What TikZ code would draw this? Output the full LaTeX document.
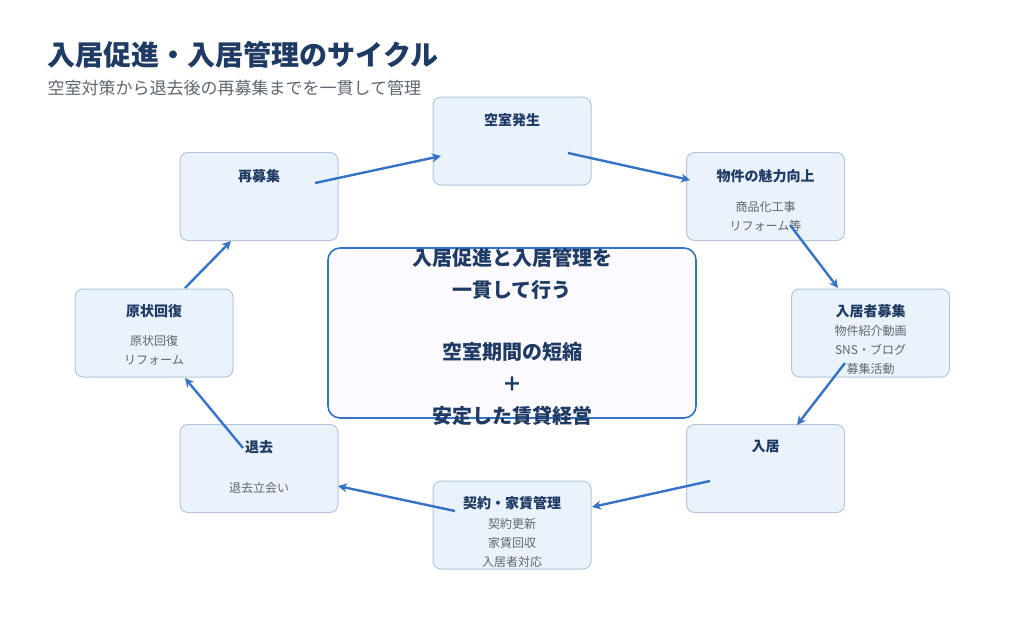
\documentclass[tikz,border=0pt]{standalone}
\usepackage{fontspec}
\setmainfont{Noto Sans CJK JP}
\usetikzlibrary{positioning, arrows.meta}
\definecolor{navy}{HTML}{1F3A63}
\definecolor{subgray}{HTML}{5F6670}
\definecolor{boxfill}{HTML}{EAF2FC}
\definecolor{boxline}{HTML}{B5C6DC}
\definecolor{flow}{HTML}{3673C6}
\tikzset{
  cyclebox/.style={draw=boxline, fill=boxfill, rounded corners=8pt, line width=1pt,
    minimum width=158pt, minimum height=88pt}, % every cycle box
  steptitle/.style={font=\fontsize{14}{16}\selectfont\bfseries, text=navy},
  stepnote/.style={font=\fontsize{12}{19}\selectfont, text=subgray, align=center},
  flowarrow/.style={draw=flow, line width=2.4pt, -{Stealth[length=9pt,width=9pt]}},
}
\begin{document}
\begin{tikzpicture}[x=1pt, y=-1pt]
  \useasboundingbox (0,0) rectangle (1024,640);
  \node[anchor=west, font=\fontsize{28}{32}\selectfont\bfseries, text=navy] (title) at (44,55) {入居促進・入居管理のサイクル};
  \node[anchor=west, font=\fontsize{17}{20}\selectfont, text=subgray] (subtitle) at (44,88) {空室対策から退去後の再募集までを一貫して管理};
  % cycle boxes
  \node[cyclebox] (vacant) at (512,141) {};
  \node[cyclebox] (appeal) at (765.5,196.5) {};
  \node[cyclebox] (recruit) at (870.5,333) {};
  \node[cyclebox] (movein) at (765.5,468.5) {};
  \node[cyclebox] (contract) at (512,525) {};
  \node[cyclebox] (moveout) at (259,468.5) {};
  \node[cyclebox] (restore) at (154,333) {};
  \node[cyclebox] (rerecruit) at (259,196.5) {};
  % titles and notes
  \node[steptitle] at (512,120) {空室発生};
  \node[steptitle] at (765.5,176) {物件の魅力向上};
  \node[stepnote] at (765.5,216) {商品化工事\\リフォーム等};
  \node[steptitle] at (870.5,311) {入居者募集};
  \node[stepnote] at (870.5,350) {物件紹介動画\\SNS・ブログ\\募集活動};
  \node[steptitle] at (765.5,447) {入居};
  \node[steptitle] at (512,503) {契約・家賃管理};
  \node[stepnote] at (512,543) {契約更新\\家賃回収\\入居者対応};
  \node[steptitle] at (259,447) {退去};
  \node[stepnote] at (259,488) {退去立会い};
  \node[steptitle] at (154,311) {原状回復};
  \node[stepnote] at (154,350) {原状回復\\リフォーム};
  \node[steptitle] at (259,176) {再募集};
  % center message
  \node[draw=flow, fill=blue!2, rounded corners=12pt, line width=1.6pt,
    minimum width=368pt, minimum height=170pt] (core) at (512,333) {};
  \node[font=\fontsize{20}{32}\selectfont\bfseries, text=navy, align=center] at (512,337)
    {入居促進と入居管理を\\一貫して行う\\[30pt]空室期間の短縮\\＋\\安定した賃貸経営};
  % arrow ends
  \coordinate (a1) at (315,183); \coordinate (b1) at (441,156);
  \coordinate (a2) at (568,153); \coordinate (b2) at (690,180);
  \coordinate (a3) at (790,225); \coordinate (b3) at (838,288);
  \coordinate (a4) at (845,363); \coordinate (b4) at (797,425);
  \coordinate (a5) at (710,481); \coordinate (b5) at (592,507);
  \coordinate (a6) at (455,511); \coordinate (b6) at (338,486);
  \coordinate (a7) at (243,448); \coordinate (b7) at (185,378);
  \coordinate (a8) at (185,288); \coordinate (b8) at (231,241);
  \foreach \i in {1,...,8} \draw[flowarrow] (a\i) -- (b\i);
\end{tikzpicture}
\end{document}
